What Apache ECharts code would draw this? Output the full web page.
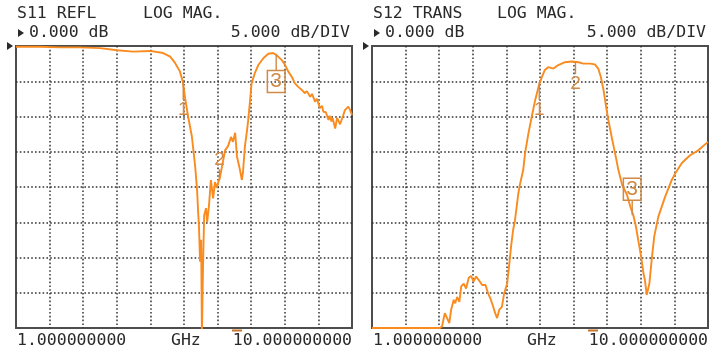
<!DOCTYPE html>
<html>
<head>
<meta charset="utf-8">
<script src="https://cdn.jsdelivr.net/npm/echarts@6/dist/echarts.min.js"></script>
<style>
  html, body { margin: 0; padding: 0; background: #fff; }
  #chart { width: 718px; height: 355px; }
</style>
</head>
<body>
<div id="chart"></div>
<script>
// S11 reflection trace (GHz, dB)
const s11Freq = [
  1.00, 1.64, 2.18, 2.71, 3.25, 3.71, 4.13, 4.59, 4.94, 5.13,
  5.26, 5.39, 5.47, 5.53, 5.61, 5.71, 5.80, 5.85, 5.88, 5.90,
  5.93, 5.96, 5.98, 6.01, 6.04, 6.09, 6.12, 6.17, 6.22, 6.28,
  6.33, 6.38, 6.42, 6.46, 6.55, 6.60, 6.68, 6.76, 6.81, 6.87,
  6.92, 7.00, 7.05, 7.08, 7.13, 7.19, 7.22, 7.27, 7.31, 7.40,
  7.49, 7.63, 7.76, 7.89, 7.98, 8.12, 8.21, 8.29, 8.39, 8.47,
  8.56, 8.65, 8.70, 8.74, 8.79, 8.88, 8.93, 9.01, 9.06, 9.14,
  9.20, 9.23, 9.30, 9.37, 9.40, 9.45, 9.48, 9.55, 9.60, 9.63,
  9.68, 9.72, 9.76, 9.81, 9.90, 9.95, 10.00
]
const s11Db = [
  -0.1, -0.1, -0.2, -0.2, -0.3, -0.6, -0.8, -0.7, -1.0, -1.5,
  -2.4, -3.6, -5.1, -7.4, -10.0, -12.8, -17.1, -20.4, -23.7, -25.4,
  -30.6, -27.5, -41.0, -31.1, -24.0, -23.0, -25.0, -22.6, -19.0, -21.6,
  -19.3, -20.1, -19.3, -18.7, -16.2, -14.8, -14.2, -12.9, -13.6, -12.3,
  -15.7, -17.6, -19.0, -17.9, -14.3, -11.9, -10.5, -7.7, -5.3, -3.8,
  -2.7, -1.7, -1.1, -1.0, -1.3, -2.0, -2.7, -3.6, -4.4, -5.3,
  -5.8, -6.2, -6.0, -6.7, -6.4, -7.2, -6.8, -7.9, -7.5, -8.8,
  -8.5, -9.3, -9.4, -10.5, -9.9, -10.7, -10.2, -11.7, -10.2, -10.5,
  -11.1, -11.2, -9.9, -9.1, -8.6, -9.1, -9.8
]

// S12 transmission trace (GHz, dB)
const s12Freq = [
  1.00, 2.82, 2.875, 2.95, 3.01, 3.07, 3.12, 3.19, 3.23, 3.28,
  3.34, 3.39, 3.46, 3.52, 3.59, 3.65, 3.72, 3.79, 3.86, 3.95,
  4.04, 4.11, 4.17, 4.23, 4.30, 4.35, 4.41, 4.48, 4.54, 4.62,
  4.68, 4.73, 4.78, 4.83, 4.92, 4.96, 5.05, 5.10, 5.19, 5.28,
  5.37, 5.46, 5.55, 5.63, 5.72, 5.86, 5.99, 6.17, 6.35, 6.53,
  6.66, 6.84, 6.97, 7.06, 7.13, 7.20, 7.27, 7.33, 7.42, 7.51,
  7.60, 7.70, 7.83, 7.92, 8.00, 8.07, 8.13, 8.21, 8.27, 8.31, 8.36,
  8.43, 8.49, 8.56, 8.67, 8.85, 9.03, 9.12, 9.30, 9.52, 9.74, 10.00
]
const s12Db = [
  -40.0, -40.0, -39.8, -37.9, -38.6, -39.3, -37.4, -36.0, -36.5, -35.6,
  -36.3, -34.1, -33.7, -34.4, -32.9, -32.6, -33.4, -32.7, -33.2, -33.9,
  -33.9, -35.1, -35.8, -36.7, -37.9, -38.6, -37.4, -37.0, -35.1, -33.7,
  -30.8, -28.2, -26.1, -24.7, -20.9, -19.7, -17.6, -15.2, -12.4, -10.0,
  -7.7, -5.8, -4.4, -3.4, -3.0, -3.2, -2.7, -2.3, -2.2, -2.3,
  -2.5, -2.5, -2.6, -3.2, -4.4, -6.2, -8.6, -10.5, -12.9, -15.2,
  -17.6, -19.7, -21.1, -22.8, -24.0, -25.6, -27.5, -29.9, -32.2, -33.2, -35.3,
  -33.7, -30.4, -27.0, -24.2, -21.4, -19.0, -18.1, -16.6, -15.5, -14.8, -13.6
]

// markers 1..3
const markerNames = ['1', '2', '3']
const markerFreq = [5.48, 6.45, 7.97]
const s11MarkerDb = [-5.1, -18.9, -1.2]
const s12MarkerDb = [-5.1, -2.3, -24.0]

const startLabel = '1.000000000'
const stopLabel = '10.000000000'

const TRACE = '#f98b1f'
const MARK = '#cf8a45'
const INK = '#2a2a2a'
const MONO = '16.5px "DejaVu Sans Mono", monospace'

const pairs = (xs, ys) => xs.map((x, i) => [x, ys[i]])

// tick length in px, dir 1 = tick hangs below the trace, -1 = above
function markPoints(dbs, ticks) {
  return dbs.map((db, i) => {
    const t = ticks[i]
    const label = {
      show: true,
      formatter: markerNames[i],
      position: t.dir > 0 ? 'bottom' : 'top',
      distance: 0,
      color: MARK,
      fontFamily: '"Liberation Sans", sans-serif',
      fontSize: t.box ? 21 : 19,
    }
    if (t.box) Object.assign(label, { borderColor: MARK, borderWidth: 1.5, padding: [1, 3], lineHeight: 20 })
    return {
      coord: [markerFreq[i], db],
      symbol: 'rect',
      symbolSize: [1.4, t.len],
      symbolOffset: [0, (t.dir * t.len) / 2],
      itemStyle: { color: MARK },
      label,
    }
  })
}

const dotted = { type: [1.6, 2.2], color: '#333', width: 1.5 }

function gridAxes(gridIndex) {
  return [
    { gridIndex, type: 'value', min: 1, max: 10, show: false },
    {
      gridIndex, type: 'value', min: 0, max: 10, interval: 1,
      axisLine: { show: false }, axisTick: { show: false }, axisLabel: { show: false },
      splitLine: { show: true, showMinLine: false, showMaxLine: false, lineStyle: dotted },
    },
  ]
}

function yAxis(gridIndex) {
  return {
    gridIndex, type: 'value', min: -40, max: 0, interval: 5,
    axisLine: { show: false }, axisTick: { show: false }, axisLabel: { show: false },
    splitLine: { show: true, showMinLine: false, showMaxLine: false, lineStyle: dotted },
  }
}

function txt(text, x, y, align) {
  return { type: 'text', x, y, silent: true, style: { text, font: MONO, fill: INK, align: align || 'left', verticalAlign: 'middle' } }
}

function panelTexts(x0, right, title, mode, titleX, modeX) {
  return [
    txt(title, titleX, 14),
    txt(mode, modeX, 14),
    { type: 'polygon', silent: true, shape: { points: [[x0 + 1, 29], [x0 + 7, 33], [x0 + 1, 37]] }, style: { fill: INK } },
    txt('0.000 dB', x0 + 12, 33),
    txt('5.000 dB/DIV', right, 33, 'right'),
    { type: 'polygon', silent: true, shape: { points: [[x0 - 10, 42], [x0 - 4, 46], [x0 - 10, 50]] }, style: { fill: INK } },
    txt(startLabel, x0, 341),
    txt('GHz', x0 + 154, 341),
    txt(stopLabel, right + 2, 341, 'right'),
  ]
}

const chart = echarts.init(document.getElementById('chart'))
chart.setOption({
  animation: false,
  backgroundColor: '#fff',
  grid: [
    { left: 16, top: 46, width: 336, height: 282, show: true, borderColor: '#4d4d4d', borderWidth: 2, backgroundColor: '#fff' },
    { left: 372, top: 46, width: 336, height: 282, show: true, borderColor: '#4d4d4d', borderWidth: 2, backgroundColor: '#fff' },
  ],
  xAxis: [...gridAxes(0), ...gridAxes(1)],
  yAxis: [yAxis(0), yAxis(1)],
  series: [
    {
      name: 'S11', type: 'line', xAxisIndex: 0, yAxisIndex: 0,
      data: pairs(s11Freq, s11Db), symbol: 'none', clip: true,
      lineStyle: { color: TRACE, width: 1.9 },
      markPoint: {
        silent: true,
        data: markPoints(s11MarkerDb, [{ len: 18, dir: 1 }, { len: 10, dir: -1 }, { len: 16, dir: 1, box: true }]),
      },
    },
    {
      name: 'S12', type: 'line', xAxisIndex: 2, yAxisIndex: 1,
      data: pairs(s12Freq, s12Db), symbol: 'none', clip: true,
      lineStyle: { color: TRACE, width: 1.9 },
      markPoint: {
        silent: true,
        data: markPoints(s12MarkerDb, [{ len: 18, dir: 1 }, { len: 12, dir: 1 }, { len: 15, dir: -1, box: true }]),
      },
    },
  ],
  graphic: [
    ...panelTexts(17, 350, 'S11 REFL', 'LOG MAG.', 17, 143),
    ...panelTexts(373, 706, 'S12 TRANS', 'LOG MAG.', 373, 497),
    { type: 'rect', silent: true, shape: { x: 232, y: 329.5, width: 10, height: 2 }, style: { fill: '#c8732a' } },
    { type: 'rect', silent: true, shape: { x: 588, y: 329.5, width: 10, height: 2 }, style: { fill: '#c8732a' } },
  ],
})
</script>
</body>
</html>
